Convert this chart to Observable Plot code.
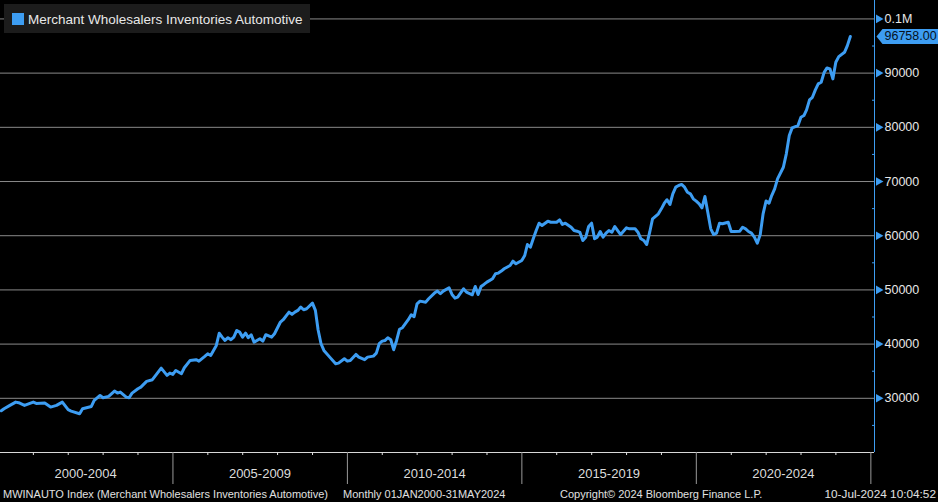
<!DOCTYPE html>
<html><head><meta charset="utf-8">
<script src="https://cdn.jsdelivr.net/npm/d3@7"></script>
<script src="https://cdn.jsdelivr.net/npm/@observablehq/plot@0.6"></script>
<style>
html,body{margin:0;padding:0;background:#000;}
#wrap{position:relative;width:938px;height:502px;overflow:hidden;background:#000;font-family:"Liberation Sans",Arial,sans-serif;}
#legend{position:absolute;left:4px;top:4px;width:306px;height:29px;background:#1c1c1c;color:#e8e8e8;font-size:13.5px;line-height:29px;white-space:nowrap;}
#legend .sw{position:absolute;left:8px;top:9px;width:12px;height:12px;background:#3d9df2;}
#legend .tx{position:absolute;left:24px;top:1px;}
.foot{position:absolute;top:486px;font-size:11px;color:#e0e0e0;white-space:nowrap;line-height:16px;}
</style></head>
<body><div id="wrap"><div id="chart"></div>
<div id="legend"><span class="sw"></span><span class="tx">Merchant Wholesalers Inventories Automotive</span></div>
<div class="foot" style="left:3px">MWINAUTO Index (Merchant Wholesalers Inventories Automotive)</div>
<div class="foot" style="left:343px">Monthly 01JAN2000-31MAY2024</div>
<div class="foot" style="left:560px">Copyright© 2024 Bloomberg Finance L.P.</div>
<div class="foot" style="right:2px;font-size:11.8px">10-Jul-2024 10:04:52</div>
</div>
<script>
const months = ["2000-01","2000-02","2000-04","2000-06","2000-07","2000-09","2000-12",
"2001-01","2001-04","2001-06","2001-08","2001-10","2001-12",
"2002-01","2002-04","2002-05","2002-08","2002-09","2002-11","2002-12",
"2003-02","2003-04","2003-05","2003-06","2003-08","2003-09","2003-10","2003-12",
"2004-01","2004-03","2004-05","2004-08","2004-10","2004-11","2004-12",
"2005-01","2005-03","2005-04","2005-06","2005-08","2005-09","2005-11","2005-12",
"2006-01","2006-03","2006-04","2006-05","2006-06","2006-07","2006-08","2006-09","2006-10","2006-11","2006-12",
"2007-01","2007-02","2007-03","2007-04","2007-06","2007-07","2007-08","2007-10","2007-11",
"2008-01","2008-02","2008-04","2008-05","2008-06","2008-07","2008-08","2008-09","2008-10","2008-12",
"2009-01","2009-02","2009-03","2009-04","2009-06","2009-08","2009-09","2009-11","2009-12",
"2010-01","2010-03","2010-04","2010-06","2010-07","2010-09","2010-10","2010-11","2010-12",
"2011-01","2011-02","2011-03","2011-04","2011-05","2011-06","2011-07","2011-09","2011-10","2011-11","2011-12",
"2012-01","2012-03","2012-04","2012-06","2012-07","2012-08","2012-09","2012-11","2012-12",
"2013-01","2013-02","2013-04","2013-05","2013-07","2013-08","2013-09","2013-10","2013-11","2013-12",
"2014-02","2014-03","2014-04","2014-05","2014-06","2014-08","2014-09","2014-10","2014-12",
"2015-01","2015-02","2015-03","2015-04","2015-05","2015-06","2015-07","2015-09","2015-10","2015-12",
"2016-01","2016-02","2016-03","2016-05","2016-06","2016-07","2016-08","2016-09","2016-10","2016-11","2016-12",
"2017-01","2017-02","2017-03","2017-04","2017-05","2017-06","2017-07","2017-08","2017-09","2017-10","2017-12",
"2018-01","2018-03","2018-04","2018-05","2018-06","2018-07","2018-08","2018-09","2018-11","2018-12",
"2019-01","2019-02","2019-03","2019-04","2019-05","2019-06","2019-07","2019-08","2019-09","2019-10","2019-11","2019-12",
"2020-01","2020-02","2020-03","2020-04","2020-05","2020-06","2020-07","2020-08","2020-09","2020-11","2020-12",
"2021-01","2021-03","2021-04","2021-05","2021-06","2021-07","2021-08","2021-09","2021-10","2021-11","2021-12",
"2022-01","2022-02","2022-03","2022-04","2022-06","2022-07","2022-08","2022-09","2022-11","2022-12",
"2023-01","2023-02","2023-03","2023-04","2023-05","2023-06","2023-07","2023-08","2023-09","2023-10","2023-11","2023-12",
"2024-01","2024-03","2024-04","2024-05"];
const values = [27700,28080,28690,29300,29190,28690,29300,
29060,29120,28380,28690,29300,27900,
27640,27160,28080,28500,29610,30530,30110,
30350,31330,30960,31140,30220,30110,30960,31770,
32070,33120,33430,35570,34230,34650,34410,
35140,34540,35640,36990,37120,36860,37730,38220,
37910,39760,42000,41290,40680,41180,40810,41290,42520,42210,41290,
42030,41180,41730,40370,40990,40550,41730,41290,41920,
44070,44500,45910,45480,45910,46220,46830,46340,46520,47560,
46220,42650,40070,38830,37600,36380,36490,37300,36860,
36990,38100,37600,37120,37600,37780,38340,40070,40550,
40680,41180,40810,38970,40680,42740,43020,44500,45400,45050,47440,
47930,47740,48370,49410,49780,49290,49780,50400,49160,
48480,48660,50210,49590,49100,50640,49160,50640,51010,51440,
52060,52990,53100,53470,53900,54510,55300,54820,55430,
56350,58380,57880,59430,60960,62310,61880,62680,62490,62490,
62930,62070,62310,61570,60960,60840,60600,59120,59730,61700,62310,
59430,59730,60780,59730,60470,60960,60650,61700,60960,60220,61460,
61270,61270,60650,59430,59120,58380,60650,63120,64040,64960,
66000,66630,65760,67730,68960,69270,69460,68960,68030,67730,66810,66370,
65880,65150,67230,64340,61270,60220,60470,62310,62200,62490,60780,
60780,60840,61570,61270,60780,60470,59730,58620,60200,64040,66400,
66000,67400,68650,70500,72640,75110,78480,79900,80330,81860,
82170,83220,85060,85540,86910,88010,88310,90150,90960,90780,88940,92000,
93050,93840,95080,96758];
const yMajor = [30000,40000,50000,60000,70000,80000,90000,100000];
const yMinor = [25000,35000,45000,55000,65000,75000,85000,95000];
const periodLabels = ["2000-2004","2005-2009","2010-2014","2015-2019","2020-2024"];
const periodStarts = [2000,2005,2010,2015,2020];
const separatorYears = [2005,2010,2015,2020,2025];
const minorYears = [2001,2002,2003,2004,2006,2007,2008,2009,2011,2012,2013,2014,2016,2017,2018,2019,2021,2022,2023,2024];

const blue = "#3d9df2";
const monthEnd = s => { const [y, m] = s.split("-").map(Number); return new Date(Date.UTC(y, m, 0)); };
const data = months.map((m, i) => ({date: monthEnd(m), value: values[i]}));
const last = data[data.length - 1];
const yearDate = y => new Date(Date.UTC(y, 0, 1));
const xDomain = [new Date(Date.UTC(2000, 0, 23)), new Date(Date.UTC(2025, 1, 8))];

const tagSymbol = {draw(ctx) {
  ctx.moveTo(2, 0); ctx.lineTo(8, -7.5); ctx.lineTo(70, -7.5); ctx.lineTo(70, 7.5); ctx.lineTo(8, 7.5); ctx.closePath();
}};

const chart = Plot.plot({
  width: 938, height: 502,
  marginTop: 0, marginLeft: 0, marginRight: 64, marginBottom: 50,
  style: {background: "#000", color: "#e6e6e6", fontFamily: "'Liberation Sans', Arial, sans-serif", fontSize: "12.5px"},
  x: {type: "utc", domain: xDomain, label: null, axis: null},
  y: {domain: [20000, 103400], label: null, axis: null},
  marks: [
    Plot.ruleY(yMajor, {stroke: "#8a8a8a", strokeWidth: 1}),
    Plot.ruleY([20000], {stroke: "#d8d8d8"}),
    Plot.ruleX([xDomain[1]], {stroke: blue}),
    Plot.axisX({ticks: separatorYears.map(yearDate), tickSize: 32, tickFormat: () => "", stroke: "#9a9a9a", label: null}),
    Plot.axisX({ticks: minorYears.map(yearDate), tickSize: 3, tickFormat: () => "", stroke: "#e0e0e0", label: null}),
    Plot.text(periodLabels, {x: (d, i) => new Date(Date.UTC(periodStarts[i] + 2, 6, 1)), text: d => d, frameAnchor: "bottom", dy: 25.5, fill: "#dcdcdc", fontSize: 13}),
    Plot.axisY({anchor: "right", ticks: yMinor, tickSize: 3, dx: -3, tickFormat: () => "", stroke: blue, label: null}),
    Plot.axisY({anchor: "right", ticks: yMajor, tickSize: 0, tickPadding: 10, tickFormat: d => d === 100000 ? "0.1M" : String(d), fill: "#e8e8e8", fontSize: 12.5, label: null}),
    Plot.dot(yMajor, {y: d => d, frameAnchor: "right", symbol: "triangle", rotate: 90, r: 3.2, fill: blue, stroke: null, dx: 4}),
    Plot.lineY(data, {x: "date", y: "value", stroke: blue, strokeWidth: 3}),
    Plot.dot([last], {y: "value", frameAnchor: "right", symbol: tagSymbol, r: 5, fill: blue, stroke: null}),
    Plot.text([last], {y: "value", frameAnchor: "right", dx: 10, textAnchor: "start", text: d => d.value.toFixed(2), fill: "#06121e", fontSize: 12.5})
  ]
});
document.getElementById("chart").appendChild(chart);
</script>
</body></html>
